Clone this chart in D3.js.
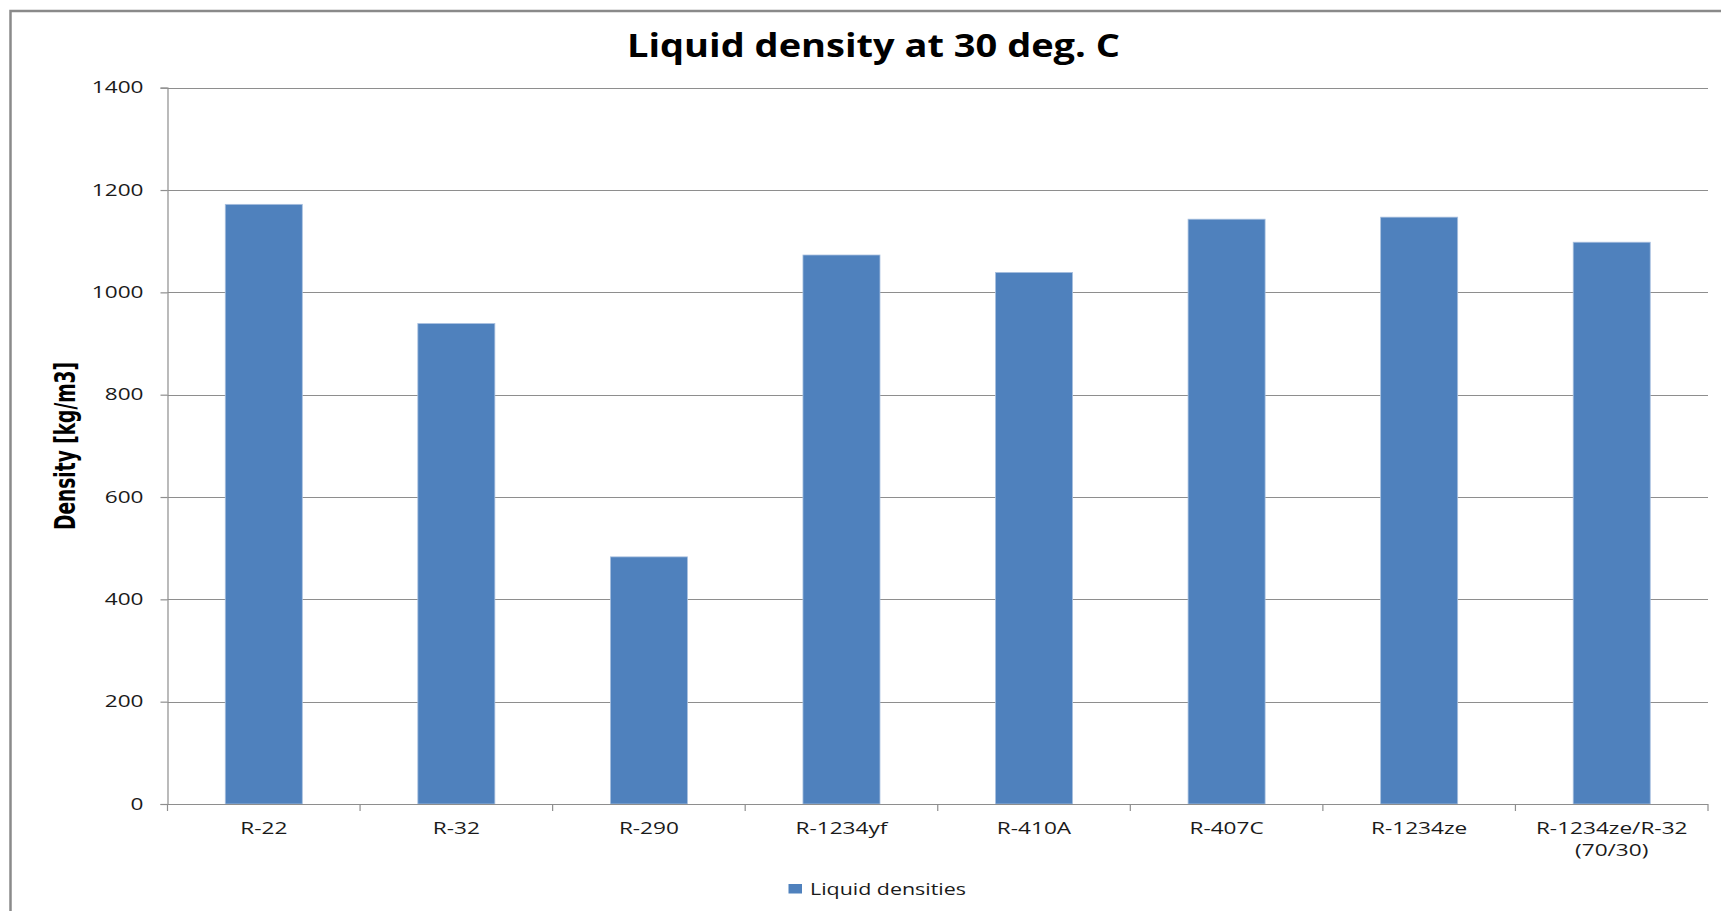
<!DOCTYPE html>
<html>
<head>
<meta charset="utf-8">
<script src="https://cdn.jsdelivr.net/npm/d3@7"></script>
<style>
  html, body { margin: 0; padding: 0; background: #fff; }
  svg { display: block; }
</style>
</head>
<body>
<svg id="chart" width="1721" height="911"></svg>
<script>
// ---- data ----
const categories = ["R-22", "R-32", "R-290", "R-1234yf", "R-410A", "R-407C", "R-1234ze", "R-1234ze/R-32\n(70/30)"];
const densities = [1172, 939, 483, 1073, 1039, 1143, 1147, 1098];
const yTicks = [0, 200, 400, 600, 800, 1000, 1200, 1400];
const seriesName = "Liquid densities";
const titleText = "Liquid density at 30 deg. C";
const yTitle = "Density [kg/m3]";

// ---- layout ----
const W = 1721, H = 911;
const plot = { left: 167.5, right: 1708, top: 87.7, bottom: 804 };
const SX = 1.37; // horizontal text stretch as in the reference
const barColor = "#4F81BD";
const gridColor = "#8e8e8e";

const svg = d3.select("#chart");

function stretch(sel, f) {
  sel.each(function () {
    const w = this.getComputedTextLength();
    this.setAttribute("textLength", w * f);
    this.setAttribute("lengthAdjust", "spacingAndGlyphs");
  });
}

// outer chart border
svg.append("rect")
  .attr("x", 10.5).attr("y", 11)
  .attr("width", W + 20).attr("height", H + 20)
  .attr("fill", "#fff")
  .attr("stroke", "#8a8a8a").attr("stroke-width", 2.5);

const x = d3.scaleBand()
  .domain(categories)
  .range([plot.left, plot.right])
  .paddingInner(0.6)
  .paddingOuter(0.3);

const y = d3.scaleLinear()
  .domain([0, 1400])
  .range([plot.bottom, plot.top]);

// gridlines
svg.append("g").selectAll("line")
  .data(yTicks.filter(d => d > 0))
  .join("line")
  .attr("x1", plot.left).attr("x2", plot.right)
  .attr("y1", d => Math.round(y(d)) + 0.5).attr("y2", d => Math.round(y(d)) + 0.5)
  .attr("stroke", gridColor).attr("stroke-width", 1.2);

// bars
svg.append("g").selectAll("rect")
  .data(densities)
  .join("rect")
  .attr("x", (d, i) => x(categories[i]))
  .attr("width", x.bandwidth())
  .attr("y", d => y(d))
  .attr("height", d => y(0) - y(d))
  .attr("fill", barColor)
  .attr("stroke", "#a9c0df")
  .attr("stroke-width", 0.8);

// y axis
const yAxis = svg.append("g")
  .attr("transform", `translate(${plot.left},0)`)
  .call(d3.axisLeft(y).tickValues(yTicks).tickSize(7).tickPadding(17).tickFormat(d3.format("d")));
yAxis.select(".domain").attr("stroke", gridColor).attr("stroke-width", 1.2);
yAxis.selectAll(".tick line").attr("stroke", gridColor).attr("stroke-width", 1.2);
yAxis.selectAll(".tick text")
  .attr("font-family", "'Open Sans', sans-serif")
  .attr("font-size", 16.5)
  .attr("fill", "#1a1a1a")
  .call(stretch, SX);

// x axis line + boundary ticks
const step = x.step();
const boundaries = d3.range(categories.length + 1).map(i => plot.left + i * step);
const xg = svg.append("g");
xg.append("line")
  .attr("x1", plot.left).attr("x2", plot.right)
  .attr("y1", plot.bottom + 0.5).attr("y2", plot.bottom + 0.5)
  .attr("stroke", gridColor).attr("stroke-width", 1.2);
xg.selectAll("line.tk")
  .data(boundaries)
  .join("line").attr("class", "tk")
  .attr("x1", d => d).attr("x2", d => d)
  .attr("y1", plot.bottom).attr("y2", plot.bottom + 7)
  .attr("stroke", gridColor).attr("stroke-width", 1.2);

// x labels (multi-line)
categories.forEach(c => {
  const lines = c.split("\n");
  lines.forEach((ln, j) => {
    xg.append("text")
      .attr("x", x(c) + x.bandwidth() / 2)
      .attr("y", plot.bottom + 30 + j * 21.5)
      .attr("text-anchor", "middle")
      .attr("font-family", "'Open Sans', sans-serif")
      .attr("font-size", 16.5)
      .attr("fill", "#1a1a1a")
      .text(ln)
      .call(stretch, SX);
  });
});

// title
svg.append("text")
  .attr("x", 873.5).attr("y", 57)
  .attr("text-anchor", "middle")
  .attr("font-family", "'Open Sans', sans-serif")
  .attr("font-weight", "bold")
  .attr("font-size", 32)
  .attr("fill", "#000")
  .text(titleText)
  .attr("textLength", 493)
  .attr("lengthAdjust", "spacingAndGlyphs");

// y axis title
svg.append("text")
  .attr("transform", "translate(75,446) rotate(-90)")
  .attr("text-anchor", "middle")
  .attr("font-family", "'Liberation Sans Narrow', 'DejaVu Sans Condensed', sans-serif")
  .attr("font-weight", "bold")
  .attr("font-size", 29)
  .attr("fill", "#000")
  .text(yTitle)
  .attr("textLength", 168)
  .attr("lengthAdjust", "spacingAndGlyphs");

// legend
const lg = svg.append("g");
lg.append("rect")
  .attr("x", 788.5).attr("y", 884)
  .attr("width", 13.5).attr("height", 9.5)
  .attr("fill", barColor);
lg.append("text")
  .attr("x", 810).attr("y", 894.5)
  .attr("font-family", "'Open Sans', sans-serif")
  .attr("font-size", 16.5)
  .attr("fill", "#1a1a1a")
  .text(seriesName)
  .attr("textLength", 156)
  .attr("lengthAdjust", "spacingAndGlyphs");
</script>
</body>
</html>
